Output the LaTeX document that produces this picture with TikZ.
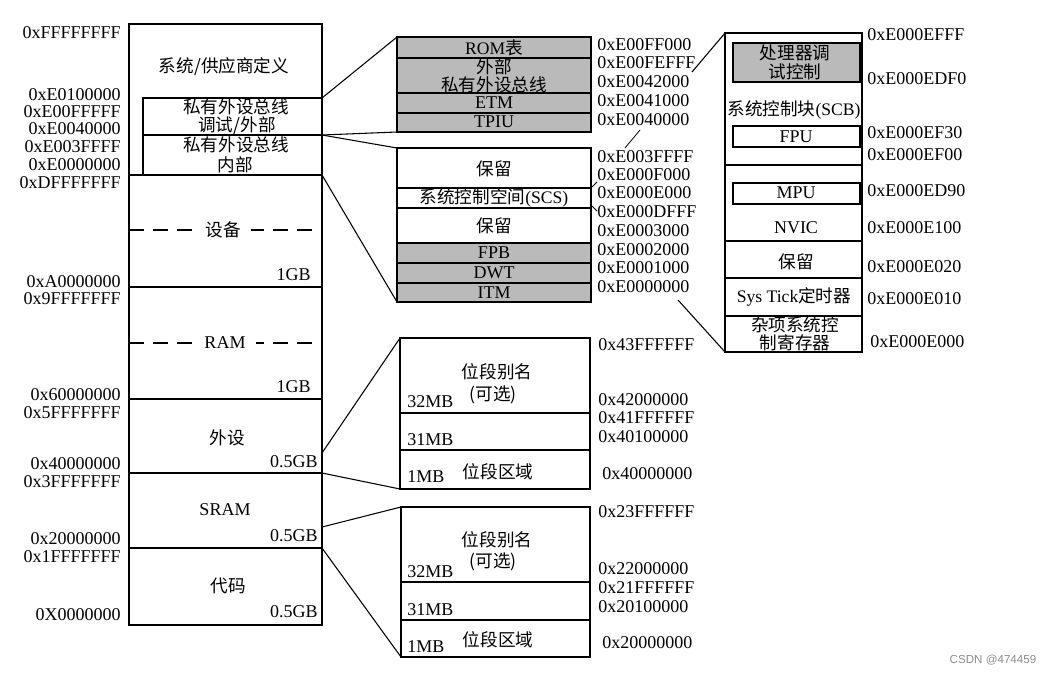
\documentclass[tikz,border=0pt]{standalone}
\usepackage{fontspec}
\setmainfont{Liberation Serif}
\newfontfamily\cjk{Noto Sans CJK SC}
\newfontfamily\wmfont{Liberation Sans}
\tikzset{
  ln/.style={line width=0.8pt},
  shadefill/.style={fill=black!27},
  lab/.style={inner sep=0pt, font=\fontsize{13.5}{15}\selectfont},
  zh/.style={inner sep=0pt, font=\fontsize{13.2}{15}\selectfont\cjk},
  addrL/.style={lab, anchor=east},
  addrR/.style={lab, anchor=west},
  sizeL/.style={lab, anchor=west},
  sizeR/.style={lab, anchor=east},
}
\begin{document}
\begin{tikzpicture}[x=0.75pt,y=-0.75pt]
\useasboundingbox (0,0) rectangle (1052,675);

% ---------- left column ----------
\coordinate (L-nw) at (129,24);
\coordinate (L-se) at (322,625);
\draw[ln] (L-nw) rectangle (L-se);
\foreach \yy/\nm in {175/b1,287/b2,399/b3,473/b4,548/b5}{
  \coordinate (L-\nm-w) at (129,\yy);
  \coordinate (L-\nm-e) at (322,\yy);
  \draw[ln] (L-\nm-w) -- (L-\nm-e);
}
\coordinate (P1-nw) at (143,98);
\coordinate (P1-se) at (322,135);
\coordinate (P2-nw) at (143,135);
\coordinate (P2-se) at (322,175);
\draw[ln] (P1-nw) rectangle (P1-se);
\draw[ln] (P2-nw) rectangle (P2-se);
\coordinate (P1-ne) at (322,98);
\coordinate (P2-ne) at (322,135);
\coordinate (P2-se2) at (322,175);

% dashed lines
\coordinate (D1-w) at (129,230); \coordinate (D1-e) at (322,230);
\coordinate (D2-w) at (129,343); \coordinate (D2-e) at (322,343);
\draw[ln, dash pattern=on 11pt off 7pt] (D1-w) -- (D1-e);
\draw[ln, dash pattern=on 11pt off 7pt] (D2-w) -- (D2-e);
\node[zh, fill=white, inner xsep=8pt, inner ysep=2pt] (t-dev) at (223,230) {设备};
\node[lab, fill=white, inner xsep=8pt, inner ysep=2pt] (t-ram) at (225,343) {RAM};

% left texts
\node[zh] (t-sys) at (224,67) {系统/供应商定义};
\node[zh] (t-p1a) at (236,107) {私有外设总线};
\node[zh] (t-p1b) at (237,126) {调试/外部};
\node[zh] (t-p2a) at (236,145) {私有外设总线};
\node[zh] (t-p2b) at (235,165) {内部};
\node[zh] (t-per) at (227,438) {外设};
\node[lab] (t-sram) at (225,510) {SRAM};
\node[zh] (t-code) at (228,586) {代码};
\node[sizeR] (s1) at (311,275) {1GB};
\node[sizeR] (s2) at (311,387) {1GB};
\node[sizeR] (s3) at (318,462) {0.5GB};
\node[sizeR] (s4) at (318,536) {0.5GB};
\node[sizeR] (s5) at (318,612) {0.5GB};

% left addresses
\foreach \yy/\tx/\nm in {33/0xFFFFFFFF/l1, 95/0xE0100000/l2, 112/0xE00FFFFF/l3, 129/0xE0040000/l4,
  147/0xE003FFFF/l5, 165/0xE0000000/l6, 183/0xDFFFFFFF/l7, 282/0xA0000000/l8, 299/0x9FFFFFFF/l9,
  395/0x60000000/l10, 413/0x5FFFFFFF/l11, 464/0x40000000/l12, 482/0x3FFFFFFF/l13,
  539/0x20000000/l14, 557/0x1FFFFFFF/l15, 615/0X0000000/l16}{
  \node[addrL] (\nm) at (121,\yy) {\tx};
}

% ---------- middle top (debug / external PPB) ----------
\coordinate (M1-nw) at (397,37);
\coordinate (M1-se) at (591,132);
\coordinate (M1-sw) at (397,132);
\draw[ln, shadefill] (M1-nw) rectangle (M1-se);
\foreach \yy in {58,93,113}{ \draw[ln] (397,\yy) -- (591,\yy); }
\node[zh] (t-rom) at (494,48) {{\fontspec{Liberation Serif}ROM}表};
\node[zh] (t-ext1) at (494,67) {外部};
\node[zh] (t-ext2) at (494,85) {私有外设总线};
\node[lab] (t-etm) at (494,103) {ETM};
\node[lab] (t-tpiu) at (494,122) {TPIU};

% ---------- middle second (internal PPB) ----------
\coordinate (M2-nw) at (397,148);
\coordinate (M2-se) at (591,302);
\coordinate (M2-sw) at (397,302);
\fill[black!27] (397,243) rectangle (591,302);
\draw[ln] (M2-nw) rectangle (M2-se);
\foreach \yy in {188,208,243,263,283}{ \draw[ln] (397,\yy) -- (591,\yy); }
\node[zh] (t-res1) at (494,169) {保留};
\node[zh] (t-scs) at (494,198) {系统控制空间{\fontspec{Liberation Serif}(SCS)}};
\node[zh] (t-res2) at (494,226) {保留};
\node[lab] (t-fpb) at (494,253) {FPB};
\node[lab] (t-dwt) at (494,273) {DWT};
\node[lab] (t-itm) at (494,293) {ITM};

% middle addresses
\foreach \yy/\tx/\nm in {45/0xE00FF000/m1, 63/0xE00FEFFF/m2, 82/0xE0042000/m3, 101/0xE0041000/m4,
  120/0xE0040000/m5, 157/0xE003FFFF/m6, 175/0xE000F000/m7, 193/0xE000E000/m8, 212/0xE000DFFF/m9,
  231/0xE0003000/m10, 250/0xE0002000/m11, 268/0xE0001000/m12, 287/0xE0000000/m13}{
  \node[addrR] (\nm) at (597,\yy) {\tx};
}

% ---------- right column (SCS detail) ----------
\coordinate (R-nw) at (725,33);
\coordinate (R-se) at (862,352);
\coordinate (R-sw) at (725,352);
\draw[ln] (R-nw) rectangle (R-se);
\draw[ln, shadefill] (733,43) rectangle (860,82);
\draw[ln] (733,126) rectangle (860,147);
\draw[ln] (733,183) rectangle (860,204);
\foreach \yy in {165,241,278,316}{ \draw[ln] (725,\yy) -- (862,\yy); }
\node[zh] (t-dbg1) at (795,53) {处理器调};
\node[zh] (t-dbg2) at (795,72) {试控制};
\node[zh] (t-scb) at (794,110) {系统控制块{\fontspec{Liberation Serif}(SCB)}};
\node[lab] (t-fpu) at (796,137) {FPU};
\node[lab] (t-mpu) at (796,193) {MPU};
\node[lab] (t-nvic) at (796,228) {NVIC};
\node[zh] (t-res3) at (796,262) {保留};
\node[zh] (t-tick) at (794,297) {{\fontspec{Liberation Serif}Sys Tick}定时器};
\node[zh] (t-misc1) at (795,325) {杂项系统控};
\node[zh] (t-misc2) at (795,343) {制寄存器};

\foreach \yy/\tx/\nm/\xx in {35/0xE000EFFF/r1/867, 79/0xE000EDF0/r2/867, 133/0xE000EF30/r3/867,
  155/0xE000EF00/r4/867, 191/0xE000ED90/r5/867, 228/0xE000E100/r6/867, 267/0xE000E020/r7/867,
  299/0xE000E010/r8/867, 342/0xE000E000/r9/870}{
  \node[addrR] (\nm) at (\xx,\yy) {\tx};
}

% ---------- bit-band boxes ----------
\coordinate (B1-nw) at (400,338);
\coordinate (B1-se) at (590,489);
\coordinate (B1-sw) at (400,489);
\draw[ln] (B1-nw) rectangle (B1-se);
\draw[ln] (400,413) -- (590,413);
\draw[ln] (400,450) -- (590,450);
\node[zh] (t-ba1) at (497,372) {位段别名};
\node[zh] (t-ba1b) at (493,395) {(可选)};
\node[sizeL] (b1s1) at (407,402) {32MB};
\node[sizeL] (b1s2) at (407,440) {31MB};
\node[sizeL] (b1s3) at (407,477) {1MB};
\node[zh] (t-br1) at (498,472) {位段区域};
\node[addrR] (p1) at (598,345) {0x43FFFFFF};
\node[addrR] (p2) at (598,400) {0x42000000};
\node[addrR] (p3) at (598,418) {0x41FFFFFF};
\node[addrR] (p4) at (598,437) {0x40100000};
\node[addrR] (p5) at (602,474) {0x40000000};

\coordinate (B2-nw) at (401,507);
\coordinate (B2-se) at (590,657);
\coordinate (B2-sw) at (401,657);
\draw[ln] (B2-nw) rectangle (B2-se);
\draw[ln] (401,582) -- (590,582);
\draw[ln] (401,620) -- (590,620);
\node[zh] (t-ba2) at (497,540) {位段别名};
\node[zh] (t-ba2b) at (493,562) {(可选)};
\node[sizeL] (b2s1) at (407,572) {32MB};
\node[sizeL] (b2s2) at (407,610) {31MB};
\node[sizeL] (b2s3) at (407,647) {1MB};
\node[zh] (t-br2) at (498,640) {位段区域};
\node[addrR] (q1) at (598,512) {0x23FFFFFF};
\node[addrR] (q2) at (598,569) {0x22000000};
\node[addrR] (q3) at (598,588) {0x21FFFFFF};
\node[addrR] (q4) at (598,607) {0x20100000};
\node[addrR] (q5) at (602,643) {0x20000000};

% ---------- connectors ----------
\draw[ln] (P1-ne) -- (M1-nw);
\draw[ln] (P2-ne) -- (M1-sw);
\draw[ln] (P2-ne) -- (M2-nw);
\draw[ln] (P2-se2) -- (M2-sw);
\coordinate (c-ext) at (692,72);
\coordinate (c-itm) at (678,300);
\draw[ln] (c-ext) -- (R-nw);
\draw[ln] (c-itm) -- (R-sw);
\coordinate (k1a) at (640,130); \coordinate (k1b) at (625,148);
\draw[line width=0.6pt] (k1a) -- (k1b);
\coordinate (k2a) at (592,187); \coordinate (k2b) at (597,182);
\draw[line width=0.6pt] (k2a) -- (k2b);
\coordinate (k3a) at (592,206); \coordinate (k3b) at (597,211);
\draw[line width=0.6pt] (k3a) -- (k3b);
\coordinate (bb1a) at (322,453);
\coordinate (bb1b) at (322,473);
\coordinate (bb2a) at (322,527);
\coordinate (bb2b) at (322,548);
\draw[ln] (bb1a) -- (B1-nw);
\draw[ln] (bb1b) -- (B1-sw);
\draw[ln] (bb2a) -- (B2-nw);
\draw[ln] (bb2b) -- (B2-sw);

% watermark
\node[inner sep=0pt, font=\wmfont\fontsize{8.7}{10}\selectfont, text=black!45] (wm) at (993,660) {CSDN @474459};
\end{tikzpicture}
\end{document}
